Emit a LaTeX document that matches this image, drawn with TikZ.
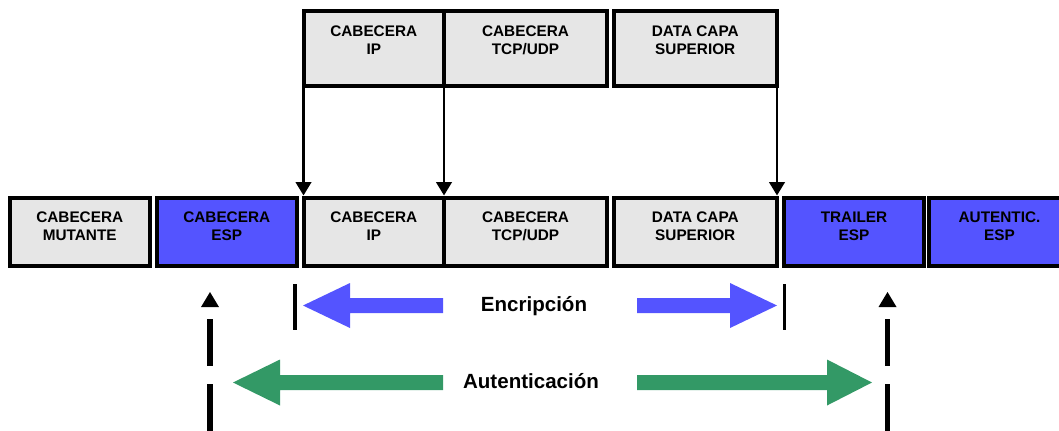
\documentclass[tikz,border=0pt]{standalone}
\usepackage{fontspec}
\setmainfont{Liberation Sans}
\usetikzlibrary{fit,arrows.meta}

\definecolor{pktgray}{RGB}{230,230,230}
\definecolor{espblue}{RGB}{84,84,255}
\definecolor{authgreen}{RGB}{51,153,102}

\begin{document}
\begin{tikzpicture}[x=0.75pt,y=-0.75pt,
  box/.style={draw, line width=3pt, inner sep=0pt, outer sep=0pt, fill=pktgray},
  espbox/.style={box, fill=espblue},
  lbl/.style={font=\bfseries\fontsize{11.5}{14}\selectfont, align=center},
  lowlbl/.style={lbl, yshift=4pt},
  toplbl/.style={lbl, yshift=6pt},
  conn/.style={line width=2pt, -{Triangle[length=10pt,width=11.5pt]}},
  bigtxt/.style={font=\bfseries\fontsize{15.4}{18}\selectfont, anchor=base},
  bracket/.style={line width=2.4pt},
  dashline/.style={line width=4pt, dash pattern=on 35.25pt off 13.5pt},
]
\useasboundingbox (0,0) rectangle (1059,430);

% original datagram (top row)
\node[box, fit={(303.5,10.5)(444,86)}, label={[toplbl]center:{CABECERA\\IP}}] (ipT) {};
\node[box, fit={(444,10.5)(607,86)}, label={[toplbl]center:{CABECERA\\TCP/UDP}}] (tcpT) {};
\node[box, fit={(613.5,10.5)(777,86)}, label={[toplbl]center:{DATA CAPA\\SUPERIOR}}] (dataT) {};

% ESP packet (bottom row)
\node[box, fit={(10,197.5)(149.5,265.5)}, label={[lowlbl]center:{CABECERA\\MUTANTE}}] (mutB) {};
\node[espbox, fit={(156.5,197.5)(297,265.5)}, label={[lowlbl]center:{CABECERA\\ESP}}] (espB) {};
\node[box, fit={(303.5,197.5)(444,265.5)}, label={[lowlbl]center:{CABECERA\\IP}}] (ipB) {};
\node[box, fit={(444,197.5)(607,265.5)}, label={[lowlbl]center:{CABECERA\\TCP/UDP}}] (tcpB) {};
\node[box, fit={(613.5,197.5)(777,265.5)}, label={[lowlbl]center:{DATA CAPA\\SUPERIOR}}] (dataB) {};
\node[espbox, fit={(784,197.5)(924,265.5)}, label={[lowlbl]center:{TRAILER\\ESP}}] (trlB) {};
\node[espbox, fit={(929,197.5)(1070,265.5)}, label={[lowlbl]center:{AUTENTIC.\\ESP}}] (autB) {};

% mapping of the original fields into the ESP packet
\draw[conn] (ipT.south west) -- ([yshift=1.5pt]ipB.north west);
\draw[conn] (ipT.south east) -- ([yshift=1.5pt]ipB.north east);
\draw[conn] (dataT.south east) -- ([yshift=1.5pt]dataB.north east);

% encryption range
\coordinate (encL) at (295,284);
\coordinate (encR) at (784.5,284);
\draw[bracket] (encL) -- ++(0,46);
\draw[bracket] (encR) -- ++(0,46);
\fill[espblue] (443,298) -- (350,298) -- (350,283) -- (303,305.5) -- (350,328) -- (350,313) -- (443,313) -- cycle;
\fill[espblue] (637,298) -- (730,298) -- (730,283) -- (777,305.5) -- (730,328) -- (730,313) -- (637,313) -- cycle;
\node[bigtxt] (enc) at (534,311) {Encripción};

% authentication range
\coordinate (autL) at (210,292);
\coordinate (autR) at (887.5,292);
\fill (autL) -- ++(9,15) -- ++(-18,0) -- cycle;
\fill (autR) -- ++(9,15) -- ++(-18,0) -- cycle;
\draw[dashline] ([yshift=-27*0.75pt]autL) -- ++(0,150);
\draw[dashline] ([yshift=-27*0.75pt]autR) -- ++(0,150);
\fill[authgreen] (443,375) -- (280,375) -- (280,359.5) -- (233,382.5) -- (280,405.5) -- (280,390) -- (443,390) -- cycle;
\fill[authgreen] (637,375) -- (827,375) -- (827,359.5) -- (872,382.5) -- (827,405.5) -- (827,390) -- (637,390) -- cycle;
\node[bigtxt] (aut) at (531,388) {Autenticación};
\end{tikzpicture}
\end{document}
